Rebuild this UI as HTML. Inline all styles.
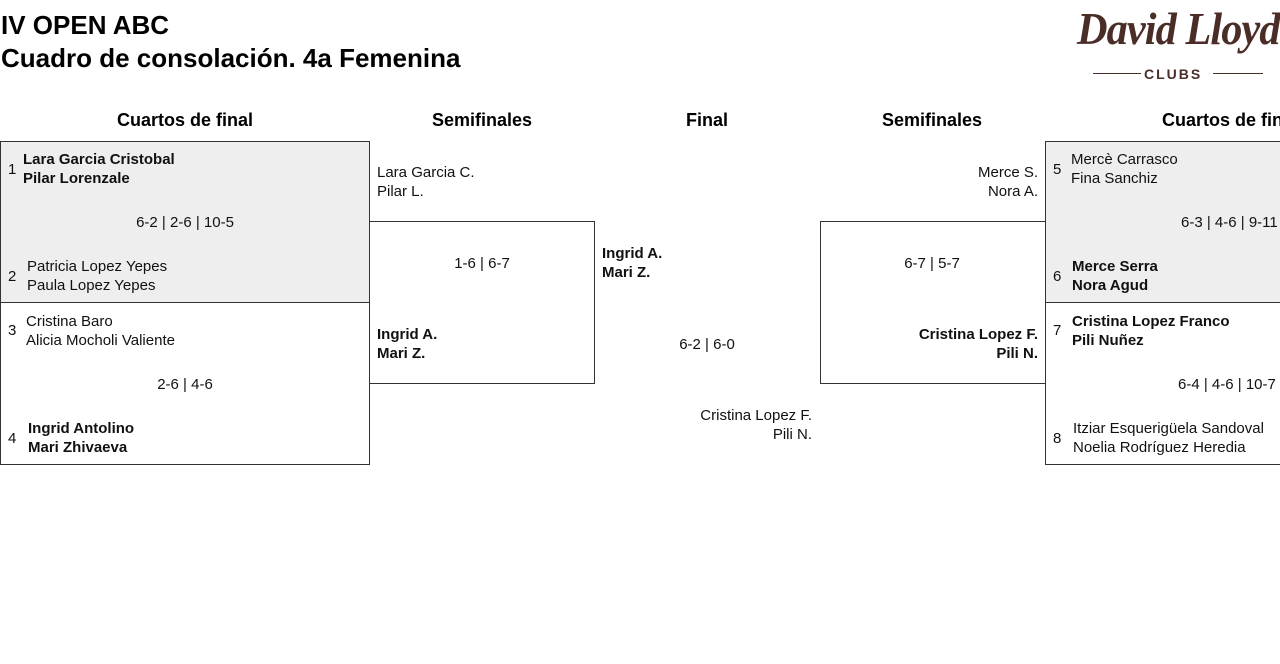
<!DOCTYPE html>
<html><head><meta charset="utf-8"><style>
body{margin:0;width:1280px;height:664px;overflow:hidden;background:#fff;font-family:"Liberation Sans",sans-serif;color:#111;position:relative}
.a{position:absolute;white-space:nowrap;font-size:15px;line-height:19px}
.b{font-weight:bold}
.box{position:absolute;border:1px solid #333;box-sizing:border-box}
.h{position:absolute;font-size:18px;font-weight:bold;transform:translateX(-50%);white-space:nowrap;top:110px;color:#000}
.c{transform:translateX(-50%)}
.r{transform:translateX(-100%)}
</style></head><body>
<div class="a b" style="left:1px;top:9px;font-size:26px;line-height:32px;color:#000">IV OPEN ABC</div>
<div class="a b" style="left:1px;top:42px;font-size:26px;line-height:32px;color:#000">Cuadro de consolación. 4a Femenina</div>
<div class="a" style="left:1077px;top:2px;font-family:'Liberation Serif',serif;font-style:italic;font-weight:bold;font-size:46px;line-height:54px;color:#4b2d27;letter-spacing:-1px;transform-origin:0 0;transform:scaleX(0.92)">David Lloyd</div>
<div style="position:absolute;left:1093px;top:73px;width:48px;height:1px;background:#4b2d27"></div>
<div style="position:absolute;left:1213px;top:73px;width:50px;height:1px;background:#4b2d27"></div>
<div class="a b" style="left:1144px;top:65px;font-size:14px;color:#4b2d27;letter-spacing:2px">CLUBS</div>

<div class="h" style="left:185px">Cuartos de final</div>
<div class="h" style="left:482px">Semifinales</div>
<div class="h" style="left:707px">Final</div>
<div class="h" style="left:932px">Semifinales</div>
<div class="h" style="left:1230px">Cuartos de final</div>

<div class="box" style="left:0;top:141px;width:370px;height:162px;background:#eee"></div>
<div class="box" style="left:0;top:302px;width:370px;height:163px"></div>
<div class="box" style="left:369px;top:221px;width:226px;height:163px"></div>
<div class="box" style="left:820px;top:221px;width:226px;height:163px"></div>
<div class="box" style="left:1045px;top:141px;width:240px;height:162px;background:#eee"></div>
<div class="box" style="left:1045px;top:302px;width:240px;height:163px"></div>

<div class="a" style="left:8px;top:160px">1</div>
<div class="a b" style="left:23px;top:150px">Lara Garcia Cristobal<br>Pilar Lorenzale</div>
<div class="a c" style="left:185px;top:213px">6-2 | 2-6 | 10-5</div>
<div class="a" style="left:8px;top:267px">2</div>
<div class="a" style="left:27px;top:257px">Patricia Lopez Yepes<br>Paula Lopez Yepes</div>
<div class="a" style="left:8px;top:321px">3</div>
<div class="a" style="left:26px;top:312px">Cristina Baro<br>Alicia Mocholi Valiente</div>
<div class="a c" style="left:185px;top:375px">2-6 | 4-6</div>
<div class="a" style="left:8px;top:429px">4</div>
<div class="a b" style="left:28px;top:419px">Ingrid Antolino<br>Mari Zhivaeva</div>

<div class="a" style="left:377px;top:163px">Lara Garcia C.<br>Pilar L.</div>
<div class="a c" style="left:482px;top:254px">1-6 | 6-7</div>
<div class="a b" style="left:377px;top:325px">Ingrid A.<br>Mari Z.</div>

<div class="a b" style="left:602px;top:244px">Ingrid A.<br>Mari Z.</div>
<div class="a c" style="left:707px;top:335px">6-2 | 6-0</div>
<div class="a r" style="left:812px;top:406px;text-align:right">Cristina Lopez F.<br>Pili N.</div>

<div class="a r" style="left:1038px;top:163px;text-align:right">Merce S.<br>Nora A.</div>
<div class="a c" style="left:932px;top:254px">6-7 | 5-7</div>
<div class="a b r" style="left:1038px;top:325px;text-align:right">Cristina Lopez F.<br>Pili N.</div>

<div class="a" style="left:1053px;top:160px">5</div>
<div class="a" style="left:1071px;top:150px">Mercè Carrasco<br>Fina Sanchiz</div>
<div class="a" style="left:1181px;top:213px">6-3 | 4-6 | 9-11</div>
<div class="a" style="left:1053px;top:267px">6</div>
<div class="a b" style="left:1072px;top:257px">Merce Serra<br>Nora Agud</div>
<div class="a" style="left:1053px;top:321px">7</div>
<div class="a b" style="left:1072px;top:312px">Cristina Lopez Franco<br>Pili Nuñez</div>
<div class="a" style="left:1178px;top:375px">6-4 | 4-6 | 10-7</div>
<div class="a" style="left:1053px;top:429px">8</div>
<div class="a" style="left:1073px;top:419px">Itziar Esquerigüela Sandoval<br>Noelia Rodríguez Heredia</div>
</body></html>
